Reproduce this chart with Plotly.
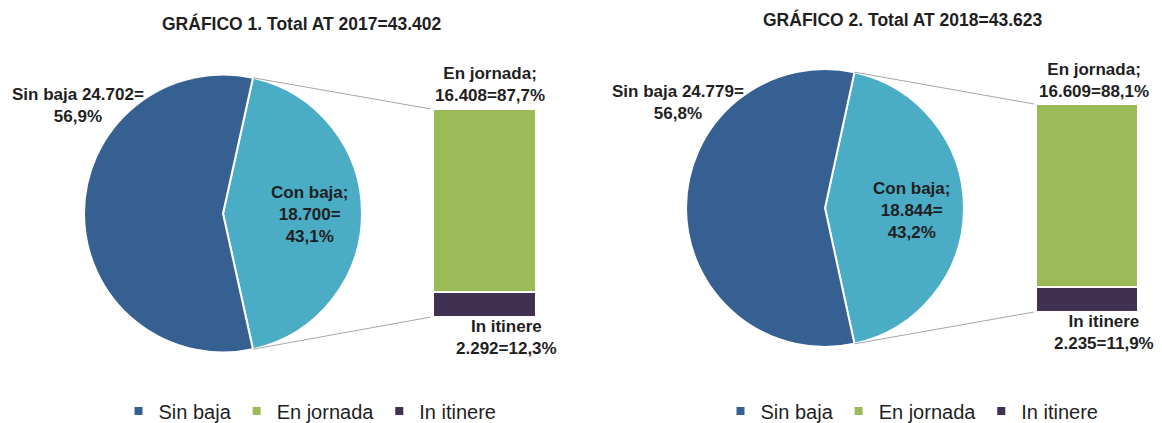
import math

import plotly.graph_objects as go

W, H = 1162, 423

years = ['2017', '2018']
totals = [43402, 43623]
sin_baja = [24702, 24779]
con_baja = [18700, 18844]
en_jornada = [16408, 16609]
in_itinere = [2292, 2235]

c_sin = '#376092'
c_con = '#4BACC6'
c_jor = '#9BBB59'
c_iti = '#403152'
ink = '#1f1f1f'
font = 'Liberation Sans, Arial'

# pixel boxes of each panel (pie centre/radius, bar box, label anchors)
panels = [
	dict(cx=223, cy=213.5, r=139, bar=(433, 536, 109, 317), title=(302, 24),
		sin=(78, 106), con=(309, 215), jor=(490, 85), iti=(506, 337), leg=(310, 411)),
	dict(cx=825, cy=208, r=139, bar=(1036, 1138, 104, 312), title=(903, 20),
		sin=(678, 102), con=(911, 210), jor=(1094, 81), iti=(1104, 332), leg=(912, 411)),
]

def px(x):
	return x / W

def py(y):
	return 1 - y / H

def num(v):
	return f"{v:,}".replace(",", ".")

def pct(v):
	return f"{v:.1f}".replace(".", ",") + "%"

fig = go.Figure()
annotations = []
shapes = []
layout_axes = {}

for i, p in enumerate(panels):

	total = totals[i]
	rot = 90 - 180 * con_baja[i] / total

	fig.add_trace(go.Pie(
		labels = ['Con baja', 'Sin baja'],
		values = [con_baja[i], sin_baja[i]],
		marker = dict(colors=[c_con, c_sin], line=dict(color='white', width=2)),
		sort = False,
		direction = 'clockwise',
		rotation = rot,
		textinfo = 'none',
		showlegend = False,
		domain = dict(x=[px(p['cx'] - p['r']), px(p['cx'] + p['r'])],
			y=[py(p['cy'] + p['r']), py(p['cy'] - p['r'])]),
	))

	xa = 'x' if i == 0 else f'x{i+1}'
	ya = 'y' if i == 0 else f'y{i+1}'
	leg = 'legend' if i == 0 else f'legend{i+1}'
	x0, x1, y0, y1 = p['bar']

	fig.add_trace(go.Bar(x=[0], y=[in_itinere[i]], xaxis=xa, yaxis=ya, width=1,
		marker=dict(color=c_iti, line=dict(color='white', width=2)), showlegend=False))
	fig.add_trace(go.Bar(x=[0], y=[en_jornada[i]], xaxis=xa, yaxis=ya, width=1,
		marker=dict(color=c_jor, line=dict(color='white', width=2)), showlegend=False))

	for name, col in (('Sin baja', c_sin), ('En jornada', c_jor), ('In itinere', c_iti)):
		fig.add_trace(go.Scatter(x=[None], y=[None], xaxis=xa, yaxis=ya, mode='markers',
			name=name, legend=leg, marker=dict(symbol='square', size=8, color=col)))

	sfx = '' if i == 0 else str(i + 1)
	layout_axes['xaxis' + sfx] = dict(domain=[px(x0), px(x1)], range=[-0.5, 0.5], visible=False, fixedrange=True)
	layout_axes['yaxis' + sfx] = dict(domain=[py(y1), py(y0)], range=[0, con_baja[i]], visible=False, fixedrange=True)
	layout_axes[leg] = dict(orientation='h', x=px(p['leg'][0]), y=py(p['leg'][1]),
		xanchor='center', yanchor='middle', traceorder='normal',
		font=dict(size=20, color=ink, family=font),
		itemwidth=30, bgcolor='rgba(0,0,0,0)')

	# connector lines from the split slice to the bar
	for ang, by in ((rot, y0), (rot + 360 * con_baja[i] / total, y1)):
		a = math.radians(ang)
		sx = p['cx'] + p['r'] * math.sin(a)
		sy = p['cy'] - p['r'] * math.cos(a)
		shapes.append(dict(type='line', xref='paper', yref='paper',
			x0=px(sx), y0=py(sy), x1=px(x0 - 2), y1=py(by),
			line=dict(color='#a6a6a6', width=1)))

	def label(xy, text, size=17):
		annotations.append(dict(x=px(xy[0]), y=py(xy[1]), xref='paper', yref='paper',
			text=text, showarrow=False, xanchor='center', yanchor='middle', align='center',
			font=dict(size=size, color=ink, family=font)))

	label(p['title'], f"<b>GRÁFICO {i+1}. Total AT {years[i]}={num(total)}</b>", 17.5)
	label(p['sin'], f"<b>Sin baja {num(sin_baja[i])}=<br>{pct(100*sin_baja[i]/total)}</b>")
	label(p['con'], f"<b>Con baja;<br>{num(con_baja[i])}=<br>{pct(100*con_baja[i]/total)}</b>")
	label(p['jor'], f"<b>En jornada;<br>{num(en_jornada[i])}={pct(100*en_jornada[i]/con_baja[i])}</b>")
	label(p['iti'], f"<b>In itinere<br>{num(in_itinere[i])}={pct(100*in_itinere[i]/con_baja[i])}</b>")

fig.update_layout(
	width = W,
	height = H,
	autosize = False,
	margin = dict(l=0, r=0, t=0, b=0, pad=0, autoexpand=False),
	paper_bgcolor = 'white',
	plot_bgcolor = 'white',
	barmode = 'stack',
	bargap = 0,
	annotations = annotations,
	shapes = shapes,
	**layout_axes,
)

fig.write_html("out.html", config={'displayModeBar': False},
	post_script="document.body.style.margin='0';")
